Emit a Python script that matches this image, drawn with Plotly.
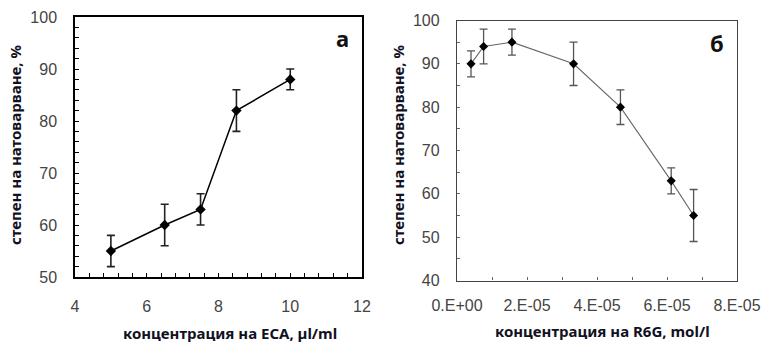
import plotly.graph_objects as go

# Panel а: ECA
eca_x = [5, 6.5, 7.5, 8.5, 10]
eca_y = [55, 60, 63, 82, 88]
eca_err = [3, 4, 3, 4, 2]

# Panel б: R6G
r6g_x = [4e-6, 7.6e-6, 1.57e-5, 3.33e-5, 4.67e-5, 6.12e-5, 6.76e-5]
r6g_y = [90, 94, 95, 90, 80, 63, 55]
r6g_err = [3, 4, 3, 5, 4, 3, 6]

r6g_tickvals = [0, 2e-5, 4e-5, 6e-5, 8e-5]
r6g_ticktext = ["0.E+00", "2.E-05", "4.E-05", "6.E-05", "8.E-05"]

W, H = 763, 342
fig = go.Figure()

fig.add_trace(go.Scatter(
    x=eca_x, y=eca_y, mode="lines+markers",
    line=dict(color="black", width=1.5),
    marker=dict(symbol="diamond", size=8, color="black"),
    error_y=dict(type="data", array=eca_err, visible=True, color="#222", thickness=1.6, width=4),
    xaxis="x", yaxis="y", showlegend=False))

fig.add_trace(go.Scatter(
    x=r6g_x, y=r6g_y, mode="lines+markers",
    line=dict(color="#666", width=1.1),
    marker=dict(symbol="diamond", size=7, color="black"),
    error_y=dict(type="data", array=r6g_err, visible=True, color="#555", thickness=1.3, width=4),
    xaxis="x2", yaxis="y2", showlegend=False))

tickfont = dict(family="Liberation Sans", size=16, color="#444")
titlefont = dict(family="Noto Sans", size=15, color="#111122")

def px_x(p):
    return p / W

def px_y(p):
    return 1 - p / H

fig.update_layout(
    width=W, height=H, margin=dict(l=0, r=0, t=0, b=0, autoexpand=False),
    paper_bgcolor="white", plot_bgcolor="white",
    xaxis=dict(domain=[px_x(75), px_x(362)], range=[4, 12], dtick=2, tick0=4,
               showline=True, linecolor="black", linewidth=1.5, mirror=True,
               ticks="inside", ticklen=4, tickcolor="black", tickwidth=1.2,
               minor=dict(dtick=0.4, tick0=4, ticks="inside", ticklen=4, tickcolor="black", tickwidth=1.2),
               showgrid=False, zeroline=False, tickfont=tickfont, ticklabelstandoff=14,
               anchor="y", automargin=False),
    yaxis=dict(domain=[px_y(277), px_y(17)], range=[50, 100], dtick=10,
               showline=True, linecolor="black", linewidth=1.5, mirror=True,
               ticks="inside", ticklen=4, tickcolor="black", tickwidth=1.2,
               minor=dict(dtick=2, ticks="inside", ticklen=4, tickcolor="black", tickwidth=1.2),
               showgrid=False, zeroline=False, tickfont=tickfont, ticklabelstandoff=13,
               anchor="x", automargin=False),
    xaxis2=dict(domain=[px_x(457), px_x(737)], range=[0, 8e-5],
                tickvals=r6g_tickvals, ticktext=r6g_ticktext,
                showline=True, linecolor="#444", linewidth=1.3, mirror=True,
                ticks="inside", ticklen=3, tickcolor="#666", tickwidth=1,
                minor=dict(dtick=1e-5, tick0=0, ticks="inside", ticklen=3, tickcolor="#666", tickwidth=1),
                showgrid=False, zeroline=False, tickfont=tickfont, ticklabelstandoff=10,
                anchor="y2", automargin=False),
    yaxis2=dict(domain=[px_y(280.5), px_y(20.5)], range=[40, 100], dtick=10,
                showline=True, linecolor="#444", linewidth=1.3, mirror=True,
                ticks="inside", ticklen=3, tickcolor="#666", tickwidth=1,
                minor=dict(dtick=5, ticks="inside", ticklen=3, tickcolor="#666", tickwidth=1),
                showgrid=False, zeroline=False, tickfont=tickfont, ticklabelstandoff=13,
                anchor="x2", automargin=False),
)

ann = [
    dict(text="<b>степен на натоварване, %</b>", x=px_x(15), y=px_y(145), textangle=-90),
    dict(text="<b>степен на натоварване, %</b>", x=px_x(398), y=px_y(145), textangle=-90),
    dict(text="<b>концентрация на ECA, µl/ml</b>", x=px_x(230), y=px_y(333)),
    dict(text="<b>концентрация на R6G, mol/l</b>", x=px_x(602), y=px_y(331)),
]
for a in ann:
    fig.add_annotation(xref="paper", yref="paper", showarrow=False,
                       xanchor="center", yanchor="middle", font=titlefont, **a)

fig.add_annotation(text="<b>а</b>", xref="paper", yref="paper", x=px_x(342), y=px_y(38),
                   showarrow=False, xanchor="center", yanchor="middle",
                   font=dict(family="Noto Sans", size=22, color="#111"))
fig.add_annotation(text="<b>б</b>", xref="paper", yref="paper", x=px_x(717), y=px_y(43),
                   showarrow=False, xanchor="center", yanchor="middle",
                   font=dict(family="Noto Sans", size=22, color="#111"))

fig.write_html("out.html")
